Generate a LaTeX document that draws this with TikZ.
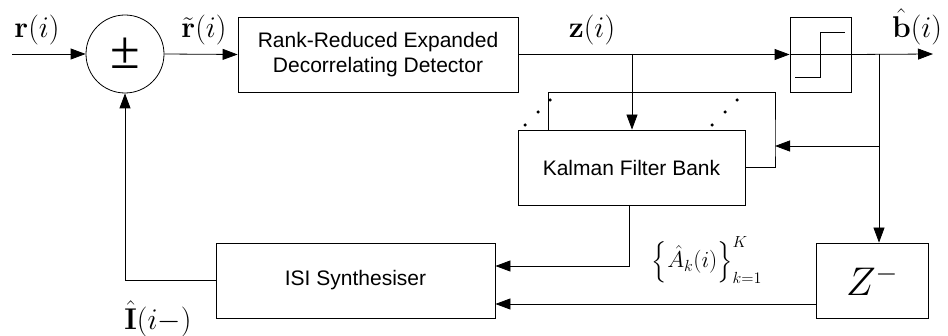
\RequirePackage{fix-cm}
\documentclass[tikz,border=0pt]{standalone}
\usepackage[no-math]{fontspec}
\DeclareFontShape{OMX}{cmex}{m}{n}{<-> cmex10}{}
\setmainfont{Liberation Sans}
\newfontfamily\serifnum{Liberation Serif}
\usetikzlibrary{arrows.meta}
\begin{document}
\begin{tikzpicture}[x=1pt,y=-1pt,line width=0.8pt,
  blk/.style={draw,rectangle,inner sep=0pt,align=center,font=\fontsize{21}{25}\selectfont},
  arr/.style={-{Triangle[length=15pt,width=11pt]}},
  lbl/.style={inner sep=0pt,font=\fontsize{30}{32}\selectfont},
  dotmark/.style={fill,circle,inner sep=0pt,minimum size=3.5pt}]
\useasboundingbox (0,0) rectangle (948,336);
% blocks
\node[draw,circle,minimum size=78pt,inner sep=0pt] (circ) at (125,54) {\serifnum\fontsize{54}{54}\selectfont\raisebox{2pt}{±}};
\node[blk,minimum width=280pt,minimum height=75pt] (det) at (378,54.5) {Rank-Reduced Expanded\\Decorrelating Detector};
\node[blk,minimum width=61pt,minimum height=75pt] (quant) at (820.5,54.5) {};
\node[blk,minimum width=227pt,minimum height=75pt] (kal) at (631.5,167.5) {Kalman Filter Bank};
\node[blk,minimum width=279pt,minimum height=75pt] (isi) at (355.5,280.5) {ISI Synthesiser};
\node[blk,minimum width=112pt,minimum height=75pt] (zb) at (872,280.5) {\fontsize{40}{40}\selectfont$Z^{-}$};
% step inside quantizer
\draw (795,77) -- (820,77) -- (820,32) -- (845,32);
% coordinates
\coordinate (in) at (12,54);
\coordinate (out) at (933,54);
\coordinate (zbr) at (632,54);
\coordinate (bbr) at (879,54);
\coordinate (bmid) at (879,146);
\coordinate (lpr) at (775,146);
\coordinate (lpt) at (548,92);
% connectors
\draw[arr] (in) -- (circ.west);
\draw[arr] (circ.east) -- (det.west);
\draw[arr] (det.east) -- (quant.west);
\draw (quant.west) -- (quant.east);
\draw[arr] (quant.east) -- (out);
\draw[arr] (zbr) -- (zbr |- kal.north);
\draw[arr] (bbr) -- (bbr |- zb.north);
\draw[arr] (bmid) -- (lpr);
\draw (kal.east) -| (lpr) |- (lpt) -- (lpt |- kal.north);
\draw[arr] (629,205) |- (isi.east |- 0,266);
\draw[arr] (zb.west |- 0,304) -- (isi.east |- 0,304);
\draw[arr] (isi.west) -| (circ.south);
% dots
\node[dotmark] (d1) at (525,125) {};
\node[dotmark] (d2) at (538,112) {};
\node[dotmark] (d3) at (550,100) {};
\node[dotmark] (d4) at (712,125) {};
\node[dotmark] (d5) at (725,112) {};
\node[dotmark] (d6) at (737,100) {};
% labels
\node[lbl] (lr) at (37,30) {$\mathbf{r}(i)$};
\node[lbl] (lrt) at (204,30) {$\tilde{\mathbf{r}}(i)$};
\node[lbl] (lz) at (592,30) {$\mathbf{z}(i)$};
\node[lbl] (lb) at (917,27) {$\hat{\mathbf{b}}(i)$};
\node[lbl] (li) at (158,319) {$\hat{\mathbf{I}}(i{-})$};
\node[inner sep=0pt,font=\fontsize{23}{26}\selectfont] (la) at (707,260) {$\left\{\vrule height 24pt depth 12pt width 0pt\hat{A}_k(i)\right\}_{k=1}^{K}$};
\end{tikzpicture}
\end{document}
